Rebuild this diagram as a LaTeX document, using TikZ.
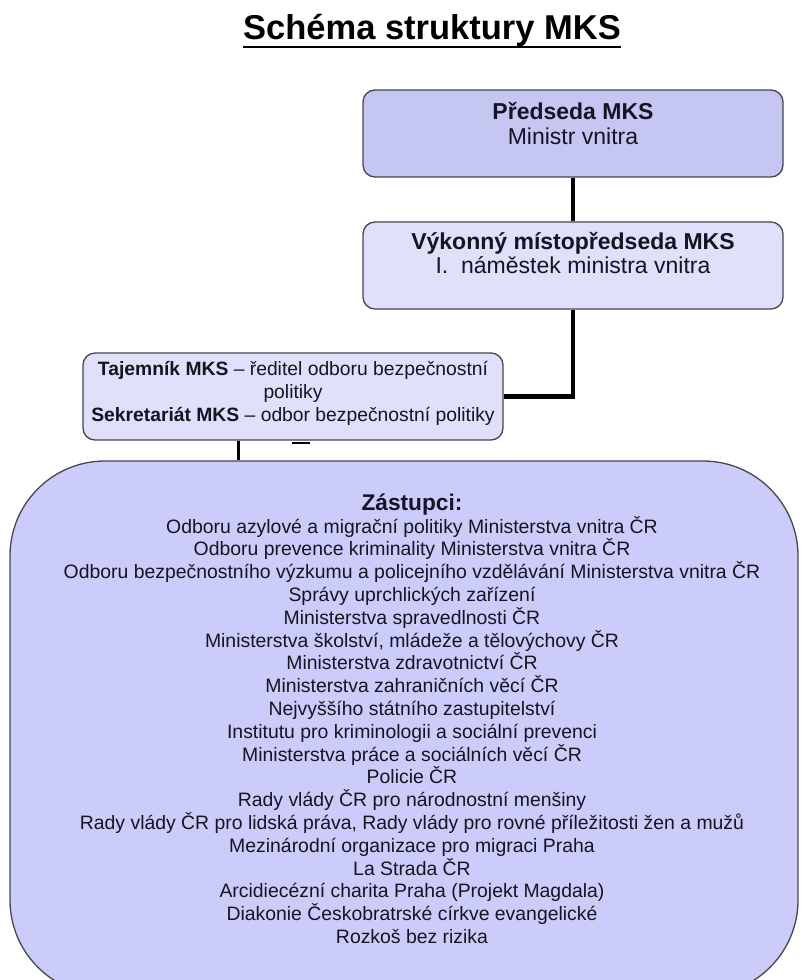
\documentclass[tikz,border=0pt]{standalone}
\usepackage{fontspec}
\setmainfont{Liberation Sans}
\definecolor{fillA}{RGB}{198,198,242}
\definecolor{fillB}{RGB}{224,224,250}
\definecolor{fillC}{RGB}{204,204,250}
\definecolor{edgeC}{RGB}{70,70,80}
\definecolor{txt}{RGB}{20,20,35}
\begin{document}
\begin{tikzpicture}[x=1pt,y=-1pt,
  orgbox/.style={draw=edgeC, line width=1.3pt, rounded corners=12pt,
    minimum width=420pt, minimum height=87pt, inner sep=0pt},
  bigbox/.style={draw=edgeC, line width=1.3pt, rounded corners=95pt,
    minimum width=788pt, minimum height=534pt, inner sep=0pt, fill=fillC},
  conn/.style={draw=black, line width=4pt},
  lblbig/.style={anchor=base, inner sep=0pt, text=txt, font=\fontsize{23}{24}\selectfont},
  lblbigb/.style={lblbig, font=\bfseries\fontsize{23}{24}\selectfont},
  lblsm/.style={anchor=base, inner sep=0pt, text=txt, font=\fontsize{19.3}{22}\selectfont},
  lbllist/.style={anchor=base, inner sep=0pt, text=txt, font=\fontsize{19.4}{22}\selectfont},
]
\useasboundingbox (0,0) rectangle (801,980);
\fill[white] (0,0) rectangle (801,980);
\clip (0,0) rectangle (801,980);

% title
\node[anchor=base, inner sep=0pt, font=\bfseries\fontsize{34.5}{36}\selectfont] (title) at (432,39) {Schéma struktury MKS};
\draw[line width=2.5pt] ([yshift=-8pt]title.base west) -- ([yshift=-8pt]title.base east);

% boxes
\node[orgbox, fill=fillA] (pred) at (573,133.5) {};
\node[orgbox, fill=fillB] (vyk) at (573,265.5) {};
\node[orgbox, fill=fillB] (taj) at (293,396.5) {};
\node[bigbox] (zast) at (404,728) {};

% connectors
\draw[conn] (pred.south) -- (vyk.north);
\draw[conn, line width=4.5pt] (vyk.south) |- (taj.east);
\draw[conn, line width=3pt] ([xshift=-55pt]taj.south) -- ([xshift=-55pt]taj.south |- zast.north);
\draw[line width=2pt] ([xshift=-1pt,yshift=-2.5pt]taj.south) -- ++(18,0);

% texts
\node[lblbigb] (predA) at (573,119) {Předseda MKS};
\node[lblbig] (predB) at (573,144) {Ministr vnitra};
\node[lblbigb] (vykA) at (573,249) {Výkonný místopředseda MKS};
\node[lblbig] (vykB) at (573,273) {I.\ \ náměstek ministra vnitra};

\node[lblsm] (tajA) at (293,375) {\textbf{Tajemník MKS} – ředitel odboru bezpečnostní};
\node[lblsm] (tajB) at (293,398) {politiky};
\node[lblsm] (tajC) at (293,421) {\textbf{Sekretariát MKS} – odbor bezpečnostní politiky};

\node[anchor=base, inner sep=0pt, text=txt, font=\bfseries\fontsize{22.7}{24}\selectfont] (zhead) at (412,510) {Zástupci:};
\foreach \t [count=\i from 0] in {
  {Odboru azylové a migrační politiky Ministerstva vnitra ČR},
  {Odboru prevence kriminality Ministerstva vnitra ČR},
  {Odboru bezpečnostního výzkumu a policejního vzdělávání Ministerstva vnitra ČR},
  {Správy uprchlických zařízení},
  {Ministerstva spravedlnosti ČR},
  {Ministerstva školství, mládeže a tělovýchovy ČR},
  {Ministerstva zdravotnictví ČR},
  {Ministerstva zahraničních věcí ČR},
  {Nejvyššího státního zastupitelství},
  {Institutu pro kriminologii a sociální prevenci},
  {Ministerstva práce a sociálních věcí ČR},
  {Policie ČR},
  {Rady vlády ČR pro národnostní menšiny},
  {Rady vlády ČR pro lidská práva, Rady vlády pro rovné příležitosti žen a mužů},
  {Mezinárodní organizace pro migraci Praha},
  {La Strada ČR},
  {Arcidiecézní charita Praha (Projekt Magdala)},
  {Diakonie Českobratrské církve evangelické},
  {Rozkoš bez rizika}}
  \node[lbllist] (z\i) at (412,{533+22.8*\i}) {\t};
\end{tikzpicture}
\end{document}
